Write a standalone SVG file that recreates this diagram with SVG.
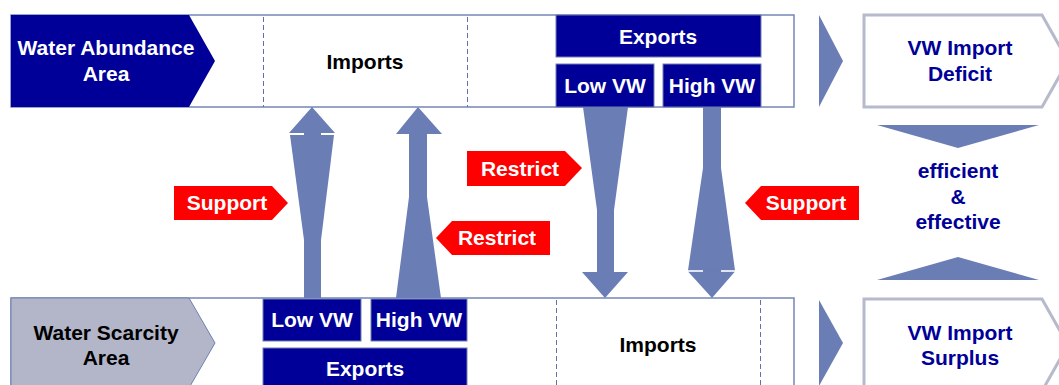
<svg xmlns="http://www.w3.org/2000/svg" width="1059" height="385" viewBox="0 0 1059 385">
<style>
text{font-family:"Liberation Sans",Arial,sans-serif;font-weight:bold;font-size:21px;text-anchor:middle}
.w{fill:#ffffff}.k{fill:#000000}.b{fill:#000099}
.band{fill:#ffffff;stroke:#7585b5;stroke-width:1.5}
.dash{stroke:#5f73aa;stroke-width:1;stroke-dasharray:5 3}
.box{fill:#000099;stroke:#7080b0;stroke-width:1}
.arr{fill:#6a7db5}
.tag{fill:#ff0000}
.res{fill:#ffffff;stroke:#b6bacb;stroke-width:3}
.gap{stroke:#ffffff;stroke-width:1.2}
</style>
<g id="top-band">
<rect class="band" x="11" y="15" width="783" height="92"/>
<line class="dash" x1="263.5" y1="17" x2="263.5" y2="107"/>
<line class="dash" x1="467.5" y1="17" x2="467.5" y2="107"/>
<text class="k" x="365" y="69">Imports</text>
</g>
<g id="water-abundance">
<polygon points="11,15 189,15 215,61 189,107 11,107" fill="#000099"/>
<text class="w" x="106" y="55">Water Abundance</text>
<text class="w" x="106" y="81">Area</text>
</g>
<g id="top-exports">
<rect class="box" x="556" y="15" width="205" height="42"/>
<text class="w" x="658" y="44">Exports</text>
</g>
<g id="top-low-vw">
<rect class="box" x="556" y="64" width="98" height="43"/>
<text class="w" x="605" y="93">Low VW</text>
</g>
<g id="top-high-vw">
<rect class="box" x="663" y="64" width="98" height="43"/>
<text class="w" x="712" y="93">High VW</text>
</g>
<g id="bottom-band">
<rect class="band" x="11" y="298" width="783" height="100"/>
<line class="dash" x1="556.5" y1="300" x2="556.5" y2="385"/>
<line class="dash" x1="760.5" y1="300" x2="760.5" y2="385"/>
<text class="k" x="658" y="352">Imports</text>
</g>
<g id="water-scarcity">
<polygon points="11,298 189,298 215,343 189,388 11,388" fill="#b3b6c9" stroke="#7080b0" stroke-width="1"/>
<text class="k" x="106" y="340">Water Scarcity</text>
<text class="k" x="106" y="365">Area</text>
</g>
<g id="bottom-low-vw">
<rect class="box" x="263" y="299" width="98" height="42"/>
<text class="w" x="312" y="327">Low VW</text>
</g>
<g id="bottom-high-vw">
<rect class="box" x="371" y="299" width="96" height="42"/>
<text class="w" x="419" y="327">High VW</text>
</g>
<g id="bottom-exports">
<rect class="box" x="263" y="348" width="204" height="45"/>
<text class="w" x="365" y="376">Exports</text>
</g>
<g id="vw-import-deficit">
<polygon class="res" points="864,15 1042,15 1068,61 1042,107 864,107"/>
<text class="b" x="960" y="55">VW Import</text>
<text class="b" x="960" y="81">Deficit</text>
</g>
<g id="vw-import-surplus">
<polygon class="res" points="864,299 1042,299 1068,345 1042,391 864,391"/>
<text class="b" x="960" y="340">VW Import</text>
<text class="b" x="960" y="365">Surplus</text>
</g>
<g id="efficient-effective">
<polygon class="arr" points="877,125 1039,125 958,148"/>
<polygon class="arr" points="877,280 1039,280 958,257"/>
<text class="b" x="958" y="178">efficient</text>
<text class="b" x="958" y="204">&amp;</text>
<text class="b" x="958" y="229">effective</text>
</g>
<g id="connectors">
<polygon class="arr" points="819,15 843,61 819,107"/>
<polygon class="arr" points="819,300 843,343 819,386"/>
<!-- Low VW import (up, support) -->
<rect class="arr" x="304" y="130" width="17" height="168"/>
<polygon class="arr" points="289,133 312,107 335,133"/>
<polygon class="arr" points="290,135 334,135 321,240 304,240"/>
<line class="gap" x1="289" y1="134" x2="304" y2="134"/>
<line class="gap" x1="321" y1="134" x2="335" y2="134"/>
<!-- High VW import (up, restrict) -->
<polygon class="arr" points="418,107 442,134 427,134 427,197 441,298 396,298 409,197 409,134 396,134"/>
<!-- Low VW export (down, restrict) -->
<polygon class="arr" points="583,107 628,107 614,210 614,272 628,272 605,298 582,272 597,272 597,210"/>
<!-- High VW export (down, support) -->
<rect class="arr" x="703" y="107" width="18" height="175"/>
<polygon class="arr" points="703,168 721,168 735,270.5 688,270.5"/>
<polygon class="arr" points="688,271.5 735,271.5 712,298"/>
<line class="gap" x1="688" y1="271" x2="703" y2="271"/>
<line class="gap" x1="721" y1="271" x2="735" y2="271"/>
</g>
<g id="support-left">
<polygon class="tag" points="174,186 272,186 288,203 272,220 174,220"/>
<text class="w" x="227" y="210">Support</text>
</g>
<g id="restrict-upper">
<polygon class="tag" points="467,151 565,151 582,168 565,186 467,186"/>
<text class="w" x="520" y="176">Restrict</text>
</g>
<g id="restrict-lower">
<polygon class="tag" points="436,238 452,221 550,221 550,255 452,255"/>
<text class="w" x="497" y="245">Restrict</text>
</g>
<g id="support-right">
<polygon class="tag" points="745,203 761,186 859,186 859,220 761,220"/>
<text class="w" x="806" y="210">Support</text>
</g>
</svg>
